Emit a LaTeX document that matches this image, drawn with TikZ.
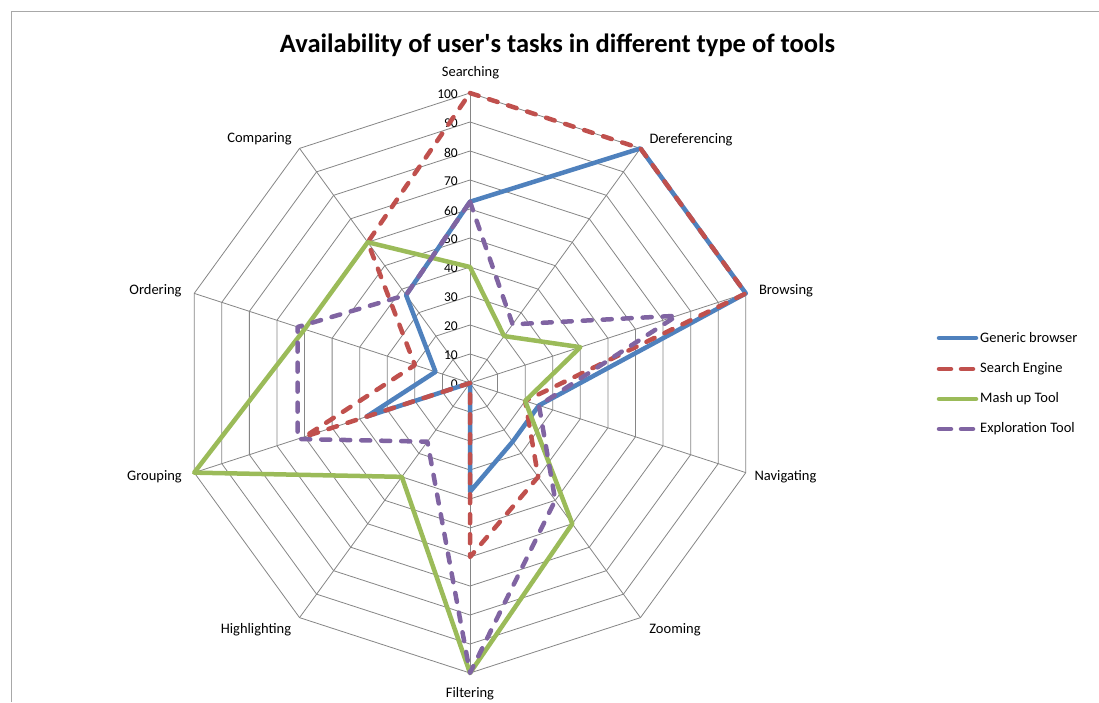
\documentclass[tikz,border=0pt]{standalone}
\usepackage{fontspec}
\setmainfont{Carlito}
\newfontfamily\chartfont{Carlito}
\usetikzlibrary{calc}
\definecolor{gbcolor}{RGB}{79,129,189}
\definecolor{secolor}{RGB}{192,80,77}
\definecolor{mucolor}{RGB}{155,187,89}
\definecolor{etcolor}{RGB}{128,100,162}
\definecolor{gridgray}{RGB}{134,134,134}
\definecolor{framegray}{RGB}{168,168,168}

\begin{document}
\begin{tikzpicture}[x=1pt,y=-1pt,
  gridline/.style={draw=gridgray, line width=0.8pt},
  datapath/.style={line width=4.5pt, line join=round, line cap=round},
  gbline/.style={datapath, draw=gbcolor},
  seline/.style={datapath, draw=secolor, dash pattern=on 9pt off 11pt},
  muline/.style={datapath, draw=mucolor},
  etline/.style={datapath, draw=etcolor, dash pattern=on 9pt off 11pt},
  axislabel/.style={font=\chartfont\fontsize{14.5}{17}\selectfont, inner sep=0pt},
  ticklabel/.style={font=\chartfont\fontsize{13.5}{16}\selectfont, inner sep=0pt, anchor=east},
  legendtext/.style={font=\chartfont\fontsize{14.5}{17}\selectfont, inner sep=0pt, anchor=west},
]
% canvas and chart frame
\useasboundingbox (0,0) rectangle (1099,702);
\fill[white] (0,0) rectangle (1099,702);
\draw[framegray, line width=1.3pt] (11.5,702) -- (11.5,11.5) -- (1099,11.5);

% title
\node[font=\chartfont\bfseries\fontsize{26.5}{30}\selectfont, anchor=base, inner sep=0pt] (title) at (557.5,52.5)
  {Availability of user's tasks in different type of tools};

% radar axes: centre and the ten spoke ends (value 100)
\coordinate (C) at (470,383);
\foreach \i in {1,...,10}
  \coordinate (a\i) at ($(C)+({90-36*(\i-1)}:290pt)$);

% decagon rings and spokes
\foreach \k in {1,...,10}
  \draw[gridline] ($(C)!\k/10!(a1)$)
    \foreach \i in {2,...,10} { -- ($(C)!\k/10!(a\i)$) } -- cycle;
\foreach \i in {1,...,10}
  \draw[gridline] (C) -- (a\i);

% scale labels along the first axis
\foreach \k [evaluate=\k as \v using int(10*\k)] in {0,...,10}
  \node[ticklabel] (t\k) at (458,{384.5-29*\k}) {\v};

% category labels
\node[axislabel] (lSearching)     at (470.5,73)  {Searching};
\node[axislabel] (lDereferencing) at (691,140)   {Dereferencing};
\node[axislabel] (lBrowsing)      at (786,291)   {Browsing};
\node[axislabel] (lNavigating)    at (785.5,477) {Navigating};
\node[axislabel] (lZooming)       at (675,630)   {Zooming};
\node[axislabel] (lFiltering)     at (470,694)   {Filtering};
\node[axislabel] (lHighlighting)  at (256,630)   {Highlighting};
\node[axislabel] (lGrouping)      at (154.5,477) {Grouping};
\node[axislabel] (lOrdering)      at (155.5,291) {Ordering};
\node[axislabel] (lComparing)     at (259.5,139) {Comparing};

% data series
\draw[gbline] ($(C)!0.625!(a1)$) -- ($(C)!1!(a2)$) -- ($(C)!1!(a3)$) -- ($(C)!0.25!(a4)$)
  -- ($(C)!0.25!(a5)$) -- ($(C)!0.375!(a6)$) -- ($(C)!0!(a7)$) -- ($(C)!0.375!(a8)$)
  -- ($(C)!0.125!(a9)$) -- ($(C)!0.375!(a10)$) -- cycle;
\draw[seline] ($(C)!1!(a1)$) -- ($(C)!1!(a2)$) -- ($(C)!1!(a3)$) -- ($(C)!0.2!(a4)$)
  -- ($(C)!0.4!(a5)$) -- ($(C)!0.6!(a6)$) -- ($(C)!0!(a7)$) -- ($(C)!0.6!(a8)$)
  -- ($(C)!0.2!(a9)$) -- ($(C)!0.6!(a10)$) -- cycle;
\draw[muline] ($(C)!0.4!(a1)$) -- ($(C)!0.2!(a2)$) -- ($(C)!0.4!(a3)$) -- ($(C)!0.2!(a4)$)
  -- ($(C)!0.6!(a5)$) -- ($(C)!1!(a6)$) -- ($(C)!0.4!(a7)$) -- ($(C)!1!(a8)$)
  -- ($(C)!0.6!(a9)$) -- ($(C)!0.6!(a10)$) -- cycle;
\draw[etline] ($(C)!0.625!(a1)$) -- ($(C)!0.25!(a2)$) -- ($(C)!0.75!(a3)$) -- ($(C)!0.25!(a4)$)
  -- ($(C)!0.5!(a5)$) -- ($(C)!1!(a6)$) -- ($(C)!0.25!(a7)$) -- ($(C)!0.625!(a8)$)
  -- ($(C)!0.625!(a9)$) -- ($(C)!0.375!(a10)$) -- cycle;

% legend
\node[legendtext] (lg1) at (980,338) {Generic browser};
\node[legendtext] (lg2) at (980,369) {Search Engine};
\node[legendtext] (lg3) at (980,399) {Mash up Tool};
\node[legendtext] (lg4) at (980,429) {Exploration Tool};
\draw[gbline] ([xshift=-41pt]lg1.west) -- ([xshift=-4pt]lg1.west);
\draw[seline, dash pattern=on 12pt off 10pt] ([xshift=-41pt]lg2.west) -- ([xshift=-4pt]lg2.west);
\draw[muline] ([xshift=-41pt]lg3.west) -- ([xshift=-4pt]lg3.west);
\draw[etline, dash pattern=on 12pt off 10pt] ([xshift=-41pt]lg4.west) -- ([xshift=-4pt]lg4.west);
\end{tikzpicture}
\end{document}
